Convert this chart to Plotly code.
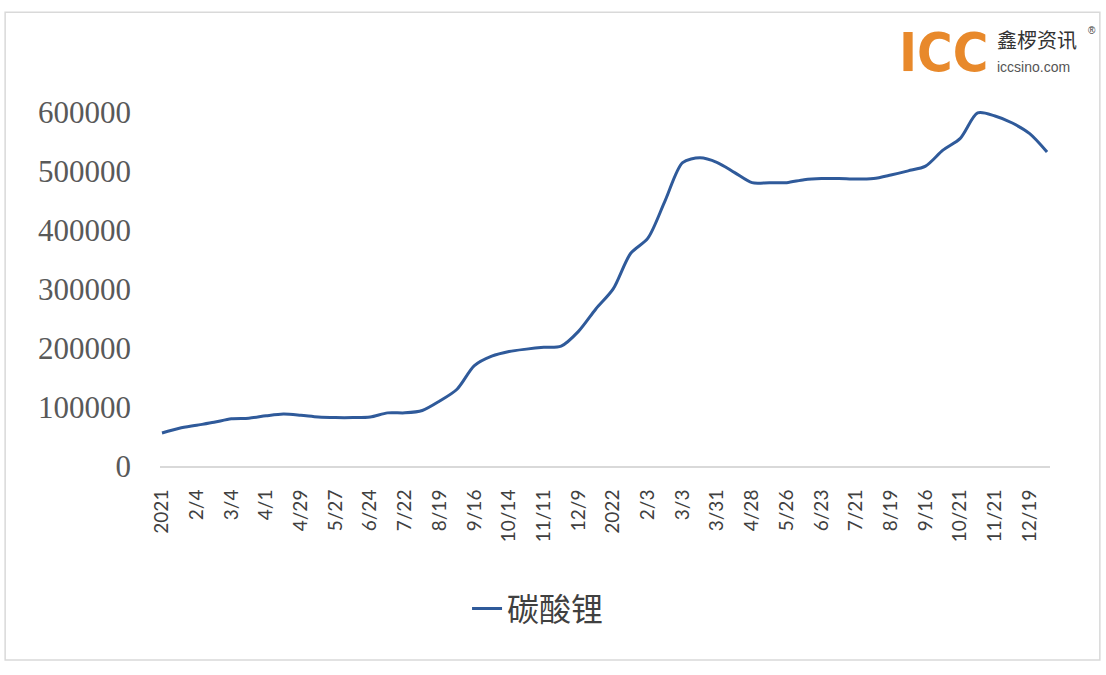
import plotly.graph_objects as go

# Categories (roughly biweekly observation dates)
dates = [
    "2021-01-07", "2021-01-21", "2021-02-04", "2021-02-18", "2021-03-04", "2021-03-18",
    "2021-04-01", "2021-04-15", "2021-04-29", "2021-05-13", "2021-05-27", "2021-06-10",
    "2021-06-24", "2021-07-08", "2021-07-22", "2021-08-05", "2021-08-19", "2021-09-02",
    "2021-09-16", "2021-09-30", "2021-10-14", "2021-10-28", "2021-11-11", "2021-11-25",
    "2021-12-09", "2021-12-23", "2022-01-06", "2022-01-20", "2022-02-03", "2022-02-17",
    "2022-03-03", "2022-03-17", "2022-03-31", "2022-04-14", "2022-04-28", "2022-05-12",
    "2022-05-26", "2022-06-09", "2022-06-23", "2022-07-07", "2022-07-21", "2022-08-04",
    "2022-08-19", "2022-09-02", "2022-09-16", "2022-10-07", "2022-10-21", "2022-11-07",
    "2022-11-21", "2022-12-05", "2022-12-19", "2023-01-03",
]

# Lithium carbonate price (yuan/ton)
lithium_carbonate = [
    56000, 64000, 69000, 74000, 80000, 81000,
    85000, 88000, 86000, 83000, 82000, 82000,
    83000, 90000, 90000, 94000, 110000, 130000,
    170000, 186000, 194000, 198000, 201000, 203000,
    228000, 266000, 300000, 360000, 386000, 450000,
    514000, 522000, 514000, 497000, 480000, 480000,
    480000, 485000, 487000, 487000, 486000, 487000,
    493000, 500000, 508000, 535000, 555000, 598000,
    593000, 581000, 563000, 532000,
]

tick_dates = dates[0:51:2]
tick_labels = [
    "2021", "2/4", "3/4", "4/1", "4/29", "5/27", "6/24", "7/22", "8/19", "9/16",
    "10/14", "11/11", "12/9", "2022", "2/3", "3/3", "3/31", "4/28", "5/26", "6/23",
    "7/21", "8/19", "9/16", "10/21", "11/21", "12/19",
]

y_ticks = [0, 100000, 200000, 300000, 400000, 500000, 600000]

fig = go.Figure()
fig.add_trace(go.Scatter(
    x=dates, y=lithium_carbonate, mode="lines", name="碳酸锂",
    line=dict(color="#2F5A9A", width=3, shape="spline", smoothing=0.8),
))

fig.update_layout(
    width=1106, height=675,
    margin=dict(l=160, r=56, t=100, b=209),
    paper_bgcolor="white", plot_bgcolor="white",
    showlegend=True,
    legend=dict(
        orientation="h", x=0.345, xanchor="left", y=-0.39, yanchor="middle",
        font=dict(family="Noto Sans CJK SC", size=32, color="#404040"),
        bgcolor="rgba(0,0,0,0)",
    ),
    xaxis=dict(
        type="category", range=[-0.115, 51.17],
        tickmode="array", tickvals=tick_dates, ticktext=tick_labels,
        tickangle=-90, showgrid=False, zeroline=False,
        showline=True, linecolor="#D9D9D9", linewidth=2, ticks="",
        ticklabelstandoff=14,
        tickfont=dict(family="Lato", size=19, color="#404040"),
    ),
    yaxis=dict(
        range=[0, 620000], tickmode="array", tickvals=y_ticks,
        ticktext=[str(v) for v in y_ticks],
        showgrid=False, zeroline=False, showline=False, ticks="",
        ticklabelstandoff=28,
        tickfont=dict(family="Liberation Serif", size=31, color="#595959"),
    ),
    shapes=[dict(type="rect", xref="paper", yref="paper",
                 x0=-0.174, x1=1.056, y0=-0.53, y1=1.24,
                 line=dict(color="#D9D9D9", width=1.5), layer="below")],
)

# ICC logo text
fig.add_annotation(xref="paper", yref="paper", x=0.933, y=1.13, xanchor="right", yanchor="middle",
                   text="<b>ICC</b>", showarrow=False,
                   font=dict(family="DejaVu Sans Condensed, Liberation Sans", size=54, color="#E8892B"))
fig.add_annotation(xref="paper", yref="paper", x=0.938, y=1.165, xanchor="left", yanchor="middle",
                   text="鑫椤资讯", showarrow=False,
                   font=dict(family="Noto Sans CJK SC", size=20, color="#333333"))
fig.add_annotation(xref="paper", yref="paper", x=1.04, y=1.19, xanchor="left", yanchor="middle",
                   text="®", showarrow=False,
                   font=dict(family="Liberation Sans", size=10, color="#333333"))
fig.add_annotation(xref="paper", yref="paper", x=0.938, y=1.09, xanchor="left", yanchor="middle",
                   text="iccsino.com", showarrow=False,
                   font=dict(family="Liberation Sans", size=14, color="#555555"))

fig.write_html("out.html")
